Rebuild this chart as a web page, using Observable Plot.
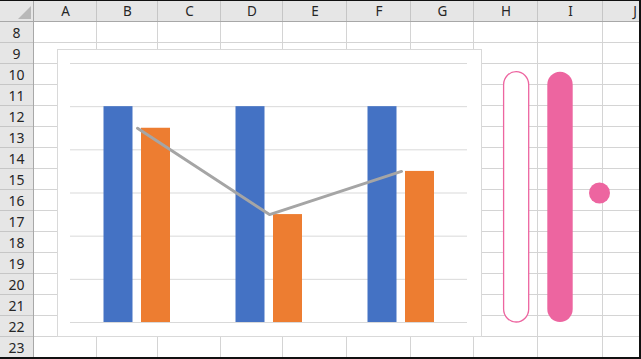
<!DOCTYPE html>
<html>
<head>
<meta charset="utf-8">
<script src="https://cdn.jsdelivr.net/npm/d3@7"></script>
<script src="https://cdn.jsdelivr.net/npm/@observablehq/plot@0.6"></script>
<style>
  html, body { margin: 0; padding: 0; background: #fff; }
  #sheet { position: relative; width: 641px; height: 359px; overflow: hidden; background: #fff;
    font-family: "Noto Sans", "DejaVu Sans", sans-serif; }
  .abs { position: absolute; box-sizing: border-box; }
  .hdr { background: #e6e6e6; color: #262626; font-size: 13.5px; display: flex; align-items: center; justify-content: center; }
  .rowhdr { font-size: 14px; }
  #sheet svg { overflow: visible; }
</style>
</head>
<body>
<div id="sheet"></div>
<script>
// ---- chart data ----
const categories = ["Category 1", "Category 2", "Category 3"];
const series1 = [5, 5, 5];
const series2 = [4.5, 2.5, 3.5];
const lineSeries = [4.5, 2.5, 3.5];
const yTicks = [0, 1, 2, 3, 4, 5, 6];

// ---- pink shapes beside the chart ----
const shapeKinds = ["outline", "filled", "dot"];
const capsuleLow = [0, 0];
const capsuleHigh = [5.8, 5.8];
const dotValue = [3];

// ---- spreadsheet chrome labels ----
const columnLetters = ["A", "B", "C", "D", "E", "F", "G", "H", "I", "J"];
const rowNumbers = d3.range(8, 24);

const sheet = document.getElementById("sheet");
function box(x, y, w, h, style, cls) {
  const d = document.createElement("div");
  d.className = "abs " + (cls || "");
  Object.assign(d.style, { left: x + "px", top: y + "px", width: w + "px", height: h + "px" }, style || {});
  sheet.appendChild(d);
  return d;
}

// column boundaries (pixels of the screenshot)
const colEdges = [34, 97, 158, 221, 283, 347, 411, 474, 538, 603, 667];
const headerH = 22, rowH = 21;

// header row
box(0, 0, 641, headerH, { background: "#e6e6e6" });
columnLetters.forEach((c, i) => {
  const d = box(colEdges[i], 0, colEdges[i + 1] - colEdges[i], headerH - 1, {}, "hdr");
  d.textContent = c;
  box(colEdges[i + 1] - 1, 0, 1, headerH - 1, { background: "#c6c6c6" });
});
box(0, headerH - 1, 641, 1, { background: "#a8a8a8" });
// corner triangle
box(18, 6, 13, 13, { background: "#b8b8b8", clipPath: "polygon(100% 0, 100% 100%, 0 100%)" });

// row headers
box(0, headerH, 34, 359 - headerH, { background: "#e6e6e6" });
rowNumbers.forEach((r, i) => {
  const d = box(0, headerH + i * rowH, 33, rowH - 1, {}, "hdr rowhdr");
  d.textContent = r;
  box(0, headerH + (i + 1) * rowH - 1, 33, 1, { background: "#c6c6c6" });
});
box(33, 0, 1, 359, { background: "#a8a8a8" });

// cell gridlines
for (let i = 1; i < colEdges.length - 1; i++) box(colEdges[i] - 1, headerH, 1, 359 - headerH, { background: "#d4d4d4" });
for (let i = 1; i <= rowNumbers.length; i++) box(34, headerH + i * rowH - 1, 641 - 34, 1, { background: "#d4d4d4" });

// ---- chart ----
const chartLeft = 57, chartTop = 49, chartW = 425, chartH = 288;
box(chartLeft, chartTop, chartW, chartH, { background: "#fff", border: "1px solid #d9d9d9" });

const data = categories.map((c, i) => ({ cat: c, s1: series1[i], s2: series2[i], ln: lineSeries[i] }));

const chart = Plot.plot({
  width: chartW, height: chartH,
  marginLeft: 13, marginRight: 15, marginTop: 14, marginBottom: 15,
  x: { type: "band", domain: categories, padding: 0, axis: null },
  y: { domain: [0, 6], axis: null },
  style: { background: "transparent" },
  marks: [
    Plot.ruleY(yTicks, { stroke: "#d9d9d9", strokeWidth: 1 }),
    Plot.barY(data, { x: "cat", y: "s1", fill: "#4472c4", insetLeft: 32.5, insetRight: 70.5 }),
    Plot.barY(data, { x: "cat", y: "s2", fill: "#ed7d31", insetLeft: 70, insetRight: 33 }),
    Plot.line(data, { x: "cat", y: "ln", stroke: "#a5a5a5", strokeWidth: 3, strokeLinecap: "round", strokeLinejoin: "round" })
  ]
});
const cw = box(chartLeft, chartTop, chartW, chartH, {});
cw.appendChild(chart);

// ---- pink shapes ----
const pink = "#ed65a0";
const capsules = shapeKinds.slice(0, 2).map((k, i) => ({ kind: k, lo: capsuleLow[i], hi: capsuleHigh[i] }));
const dots = [{ kind: shapeKinds[2], v: dotValue[0] }];
const shapes = Plot.plot({
  width: 128, height: chartH,
  marginLeft: 0, marginRight: 0, marginTop: 14, marginBottom: 15,
  x: { type: "band", domain: shapeKinds, padding: 0, axis: null },
  y: { domain: [0, 6], axis: null },
  style: { background: "transparent", overflow: "visible" },
  marks: [
    Plot.barY(capsules.filter(d => d.kind === "outline"), { x: "kind", y1: "lo", y2: "hi", fill: "#fff", stroke: pink, strokeWidth: 1.3, rx: 13, insetLeft: 8.6, insetRight: 8.3 }),
    Plot.barY(capsules.filter(d => d.kind === "filled"), { x: "kind", y1: "lo", y2: "hi", fill: pink, rx: 13, insetLeft: 10.3, insetRight: 6.3 }),
    Plot.dot(dots, { x: "kind", y: "v", r: 10.5, fill: pink, dx: -1 })
  ]
});
const sw = box(494, chartTop, 128, chartH, {});
sw.appendChild(shapes);

// outer frame of the screenshot
box(0, 0, 641, 1, { background: "#111" });
box(639, 0, 2, 359, { background: "#111" });
box(0, 357, 641, 2, { background: "#111" });
</script>
</body>
</html>
